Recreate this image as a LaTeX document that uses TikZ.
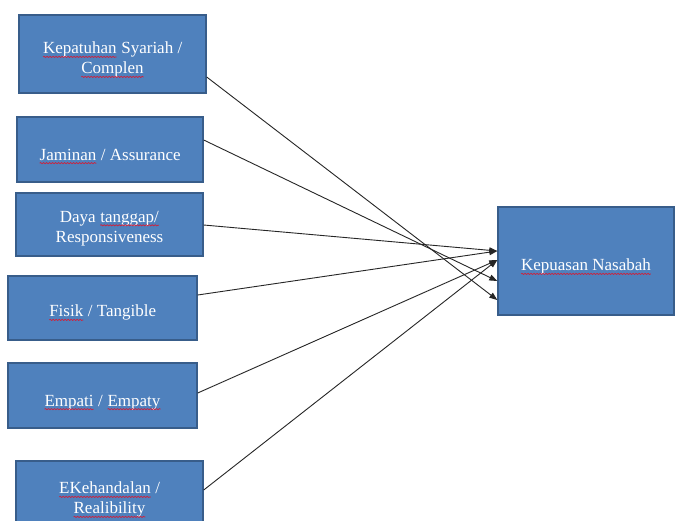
\documentclass[tikz,border=0pt]{standalone}
\usepackage{fontspec}
\setmainfont{Liberation Serif}
\usetikzlibrary{arrows.meta,calc,decorations.pathmorphing}
\definecolor{boxfill}{HTML}{4F81BD}
\definecolor{boxline}{HTML}{385D8A}
\definecolor{sqred}{HTML}{D0203A}
\newcommand{\sqw}[1]{\tikz[baseline=(sq.base),x=1cm,y=1cm]{\node[inner sep=0pt,text=white,outer sep=0pt](sq){#1};\draw[sqred,line width=0.7pt,decorate,decoration={snake,amplitude=0.6pt,segment length=3pt}]([yshift=-3pt]sq.base west)--([yshift=-3pt]sq.base east);}}
\begin{document}
\begin{tikzpicture}[x=1pt,y=-1pt,
  box/.style={draw=boxline,fill=boxfill,line width=1.4pt,inner sep=0pt},
  txt/.style={text=white,align=center,inner sep=0pt,font=\fontsize{17}{20}\selectfont},
  link/.style={draw=black!85,line width=0.9pt,-{Triangle[length=8pt,width=6pt]}}]
\useasboundingbox (0,0) rectangle (675,520);
\clip (0,0) rectangle (675,520);
\fill[white] (0,0) rectangle (675,520);
% boxes
\node[box,minimum width=187pt,minimum height=78pt] (k) at (112.5,54) {};
\node[box,minimum width=186pt,minimum height=65pt] (j) at (110,149.5) {};
\node[box,minimum width=187pt,minimum height=63pt] (d) at (109.5,224.5) {};
\node[box,minimum width=189pt,minimum height=64pt] (f) at (102.5,308) {};
\node[box,minimum width=189pt,minimum height=65pt] (e) at (102.5,395.5) {};
\node[box,minimum width=187pt,minimum height=66pt] (r) at (109.5,494) {};
\node[box,minimum width=176pt,minimum height=108pt] (n) at (586,261) {};
% texts
\node[txt] (kt) at ($(k.center)+(0,6)$) {\sqw{Kepatuhan} Syariah /\\\sqw{Complen}};
\node[txt] (jt) at ($(j.center)+(0,7)$) {\sqw{Jaminan} / Assurance};
\node[txt] (dt) at ($(d.center)+(0,4)$) {Daya \sqw{tanggap/}\\Responsiveness};
\node[txt] (ft) at ($(f.center)+(0,5)$) {\sqw{Fisik} / Tangible};
\node[txt] (et) at ($(e.center)+(0,7)$) {\sqw{Empati} / \sqw{Empaty}};
\node[txt] (rt) at ($(r.center)+(0,6)$) {\sqw{EKehandalan} /\\\sqw{Realibility}};
\node[txt] (nt) at ($(n.center)+(0,6)$) {\sqw{Kepuasan Nasabah}};
% connectors
\draw[link] ($(k.east)+(0,23)$) -- ($(n.west)+(0,39)$);
\draw[link] ($(j.east)+(0,-9.5)$) -- ($(n.west)+(0,20)$);
\draw[link] ($(d.east)+(0,0.5)$) -- ($(n.west)+(0,-10)$);
\draw[link] ($(f.east)+(0,-13)$) -- ($(n.west)+(0,-10)$);
\draw[link] ($(e.east)+(0,-2.5)$) -- ($(n.west)+(0,-1)$);
\draw[link] ($(r.east)+(0,-4)$) -- ($(n.west)+(0,-1)$);
\end{tikzpicture}
\end{document}
